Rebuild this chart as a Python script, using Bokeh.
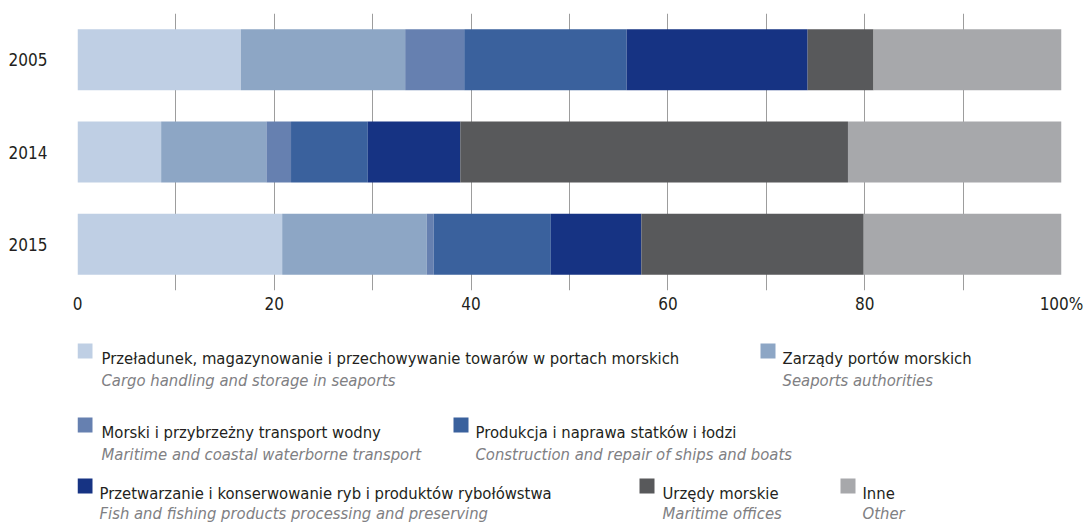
from bokeh.plotting import figure
from bokeh.models import ColumnDataSource, FactorRange, Range1d, FixedTicker
from bokeh.layouts import column
from bokeh.core.properties import value
from bokeh.embed import file_html
from bokeh.resources import INLINE

# ---- data ----
years = ["2005", "2014", "2015"]
cargo = [16.6, 8.5, 20.8]
port_auth = [16.7, 10.7, 14.7]
maritime_transport = [6.0, 2.5, 0.7]
shipbuilding = [16.5, 7.8, 11.9]
fish_processing = [18.4, 9.4, 9.2]
maritime_offices = [6.7, 39.4, 22.6]
other = [19.1, 21.7, 20.1]

series_keys = ["cargo", "port_auth", "maritime_transport", "shipbuilding",
               "fish_processing", "maritime_offices", "other"]
colors = ["#BFCFE4", "#8DA6C5", "#6680B0", "#3A619D", "#163383", "#58595B", "#A7A8AB"]
labels_pl = [
    "Przeładunek, magazynowanie i przechowywanie towarów w portach morskich",
    "Zarządy portów morskich",
    "Morski i przybrzeżny transport wodny",
    "Produkcja i naprawa statków i łodzi",
    "Przetwarzanie i konserwowanie ryb i produktów rybołówstwa",
    "Urzędy morskie",
    "Inne",
]
labels_en = [
    "Cargo handling and storage in seaports",
    "Seaports authorities",
    "Maritime and coastal waterborne transport",
    "Construction and repair of ships and boats",
    "Fish and fishing products processing  and preserving",
    "Maritime offices",
    "Other",
]
x_ticks = [0, 20, 40, 60, 80, 100]
x_tick_labels = ["0", "20", "40", "60", "80", "100%"]

FONT = "DejaVu Sans Condensed"
TXT = "#231F20"
LEFT, RIGHT = 77, 29

source = ColumnDataSource(dict(
    year=years, cargo=cargo, port_auth=port_auth, maritime_transport=maritime_transport,
    shipbuilding=shipbuilding, fish_processing=fish_processing,
    maritime_offices=maritime_offices, other=other))

p = figure(width=1090, height=320, output_backend="svg", toolbar_location=None,
           y_range=FactorRange(factors=years[::-1]), x_range=Range1d(0, 100),
           min_border_left=LEFT, min_border_right=RIGHT, min_border_top=13, min_border_bottom=30)
p.hbar_stack(series_keys, y="year", height=0.66, color=colors, source=source, line_width=0)

p.outline_line_color = None
p.ygrid.grid_line_color = None
p.xgrid.ticker = FixedTicker(ticks=list(range(0, 101, 10)))
p.xgrid.grid_line_color = "#9D9D9D"
p.xgrid.grid_line_width = 1
p.xaxis.ticker = FixedTicker(ticks=x_ticks)
p.xaxis.major_label_overrides = {t: l for t, l in zip(x_ticks, x_tick_labels)}
for ax in (p.xaxis[0], p.yaxis[0]):
    ax.axis_line_color = None
    ax.major_tick_line_color = None
    ax.minor_tick_line_color = None
    ax.major_tick_out = 0
    ax.major_tick_in = 0
    ax.major_label_text_font = FONT
    ax.major_label_text_font_size = "17px"
    ax.major_label_text_color = TXT
p.xaxis.major_label_standoff = 3
p.yaxis.major_label_standoff = 30

# ---- legend panel (frame aligned with chart frame; coordinates in page pixels) ----
lg = figure(width=1090, height=204, output_backend="svg", toolbar_location=None,
            x_range=Range1d(LEFT, 1090 - RIGHT), y_range=Range1d(204, 0),
            min_border_left=LEFT, min_border_right=RIGHT,
            min_border_top=0, min_border_bottom=0)
lg.axis.visible = False
lg.grid.visible = False
lg.outline_line_color = None

sq_x = [77, 760, 77, 453, 77, 639, 840]
sq_top = [23, 23, 97, 97, 158, 158, 158]
txt_x = [101, 782, 101, 475, 99, 662, 862]
pl_base = [38, 38, 112, 112, 173, 173, 173]
en_base = [60, 60, 134, 134, 193, 193, 193]

lg.quad(left=sq_x, right=[x + 15 for x in sq_x], top=sq_top,
        bottom=[t + 15 for t in sq_top], fill_color=colors, line_color=None)
lg.text(x=txt_x, y=pl_base, text=labels_pl, text_font=value(FONT),
        text_font_size="16.5px", text_color=TXT, text_baseline="alphabetic", text_align="left")
lg.text(x=txt_x, y=en_base, text=labels_en, text_font=value(FONT),
        text_font_size="16.5px", text_font_style="italic", text_color="#808083",
        text_baseline="alphabetic", text_align="left")

layout = column(p, lg, spacing=0)
open("out.html", "w").write(file_html(layout, INLINE))
